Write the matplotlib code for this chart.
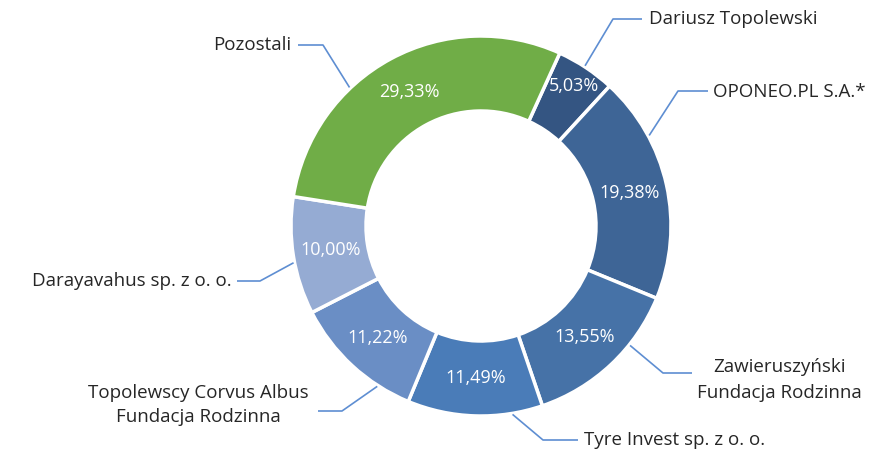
import matplotlib
matplotlib.use("Agg")
import matplotlib.pyplot as plt
import numpy as np

# ---- data ----
names = ["Dariusz Topolewski", "OPONEO.PL S.A.*", "Zawieruszyński\nFundacja Rodzinna",
         "Tyre Invest sp. z o. o.", "Topolewscy Corvus Albus\nFundacja Rodzinna",
         "Darayavahus sp. z o. o.", "Pozostali"]
shares = [5.03, 19.38, 13.55, 11.49, 11.22, 10.00, 29.33]
colors = ["#345582", "#3E6596", "#4672A7", "#4A7CB8", "#6A8EC5", "#95ABD3", "#70AD47"]

# ---- layout (pixels, y measured from top) ----
W, H = 889, 451
CX, CY = 481, 226
R, RING = 190, 75
START = 24.5          # first slice starts this many degrees clockwise from top
LABEL_R = [168, 152, 152, 152, 152, 152, 152]
# anchor angle on ring (deg clockwise from top), elbow, line end, text pos, ha
leaders = [
    (33.0, (613, 19), (642, 19), (649, 19), "left"),
    (61.7, (678, 91), (708, 91), (713, 92), "left"),
    (128.7, (663, 373), (692, 373), (779, 380), "center"),
    (170.5, (543, 440), (578, 440), (584, 440), "left"),
    (212.9, (342, 411), (318, 411), (198, 405), "center"),
    (258.9, (260, 281), (237, 281), (232, 281), "right"),
    (316.5, (323, 45), (298, 45), (291, 45), "right"),
]

FONT = "Open Sans"
FS = 13.5
TXT = "#262626"
LINE = "#5E8ED2"

fig = plt.figure(figsize=(W / 100, H / 100), dpi=100)
ax = fig.add_axes([0, 0, 1, 1])

def P(x, y):
    return (x, H - y)

cx, cy = P(CX, CY)
ax.pie(shares, colors=colors, center=(cx, cy), radius=R,
       startangle=90 - START, counterclock=False, frame=True,
       wedgeprops=dict(width=RING, edgecolor="white", linewidth=2.5))

total = sum(shares)
acc = START
for i, s in enumerate(shares):
    span = s / total * 360
    mid = np.radians(acc + span / 2)
    acc += span
    r = LABEL_R[i]
    ax.text(cx + r * np.sin(mid), cy + r * np.cos(mid),
            f"{s:.2f}%".replace(".", ","), color="white", fontsize=13,
            family=FONT, ha="center", va="center")

for name, (ang, elbow, end, tpos, ha) in zip(names, leaders):
    a = np.radians(ang)
    x0, y0 = cx + (R + 1) * np.sin(a), cy + (R + 1) * np.cos(a)
    ex, ey = P(*elbow)
    fx, fy = P(*end)
    ax.plot([x0, ex, fx], [y0, ey, fy], color=LINE, lw=1.2, solid_capstyle="butt")
    tx, ty = P(*tpos)
    ax.text(tx, ty, name, color=TXT, fontsize=FS, family=FONT, ha=ha,
            va="center", multialignment="center", linespacing=1.5)

ax.set_xlim(0, W)
ax.set_ylim(0, H)
ax.set_aspect("equal")
ax.axis("off")
fig.savefig("out.png", dpi=100, facecolor="white")
